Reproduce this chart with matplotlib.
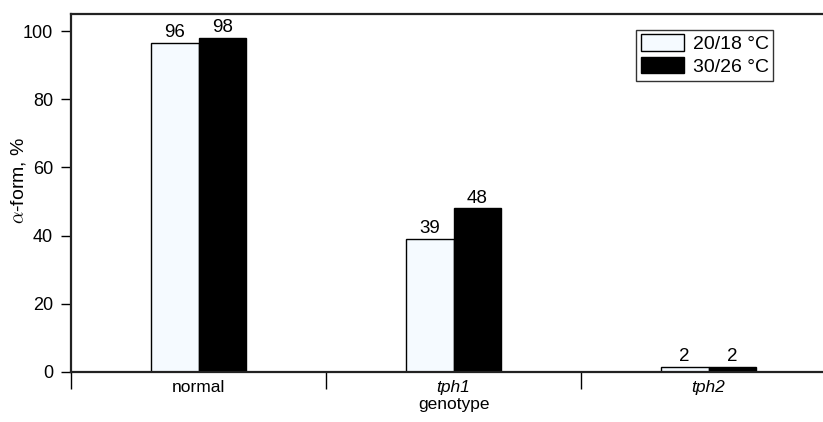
import numpy as np
import matplotlib.pyplot as plt

plt.rcParams['font.family'] = ['Liberation Sans', 'DejaVu Sans']
plt.rcParams['mathtext.fontset'] = 'cm'

# data
genotypes = ['normal', 'tph1', 'tph2']
series_names = ['20/18 °C', '30/26 °C']
low_temp = [96.5, 39, 1.5]
high_temp = [98, 48, 1.5]
low_labels = ['96', '39', '2']
high_labels = ['98', '48', '2']

fig = plt.figure(figsize=(8.23, 4.22), dpi=100)
ax = fig.add_axes([0.0863, 0.1185, 0.9295, 0.8483])

x = np.arange(len(genotypes)) + 0.5
w = 0.188

b1 = ax.bar(x - w / 2, low_temp, w, color='#f5faff', edgecolor='black', linewidth=1, label=series_names[0])
b2 = ax.bar(x + w / 2, high_temp, w, color='black', edgecolor='black', linewidth=1, label=series_names[1])

for bars, labs in ((b1, low_labels), (b2, high_labels)):
    for rect, lab in zip(bars, labs):
        ax.text(rect.get_x() + rect.get_width() / 2, rect.get_height() + 0.5, lab,
                ha='center', va='bottom', fontsize=13.5)

ax.set_xlim(0, 3)
ax.set_ylim(0, 105)
ax.set_yticks(range(0, 101, 20))
ax.tick_params(axis='y', labelsize=13, length=7, width=1, direction='out', pad=6)

# group labels at centers, separators as minor ticks
ax.set_xticks(x)
ax.set_xticklabels(genotypes, fontsize=12.5)
for lab, g in zip(ax.get_xticklabels(), genotypes):
    if g != 'normal':
        lab.set_style('italic')
ax.tick_params(axis='x', which='major', length=0, pad=6)
ax.set_xticks([0, 1, 2], minor=True)
ax.tick_params(axis='x', which='minor', length=12, width=1, direction='out')

ax.set_xlabel('genotype', fontsize=12.5, labelpad=1)
ax.set_ylabel(r'$\alpha$-form, %', fontsize=14)
ax.yaxis.set_label_coords(-0.056, 0.536)

for s in ax.spines.values():
    s.set_linewidth(1.6)
    s.set_color('#222222')

leg = ax.legend(loc='upper left', bbox_to_anchor=(0.773, 0.93), bbox_transform=fig.transFigure,
                fontsize=14, frameon=True, fancybox=False, edgecolor='black',
                handlelength=2.2, handleheight=0.9, borderpad=0.25, labelspacing=0.2,
                handletextpad=0.45, borderaxespad=0)
leg.get_frame().set_linewidth(1)

fig.savefig('out.png', dpi=100)
